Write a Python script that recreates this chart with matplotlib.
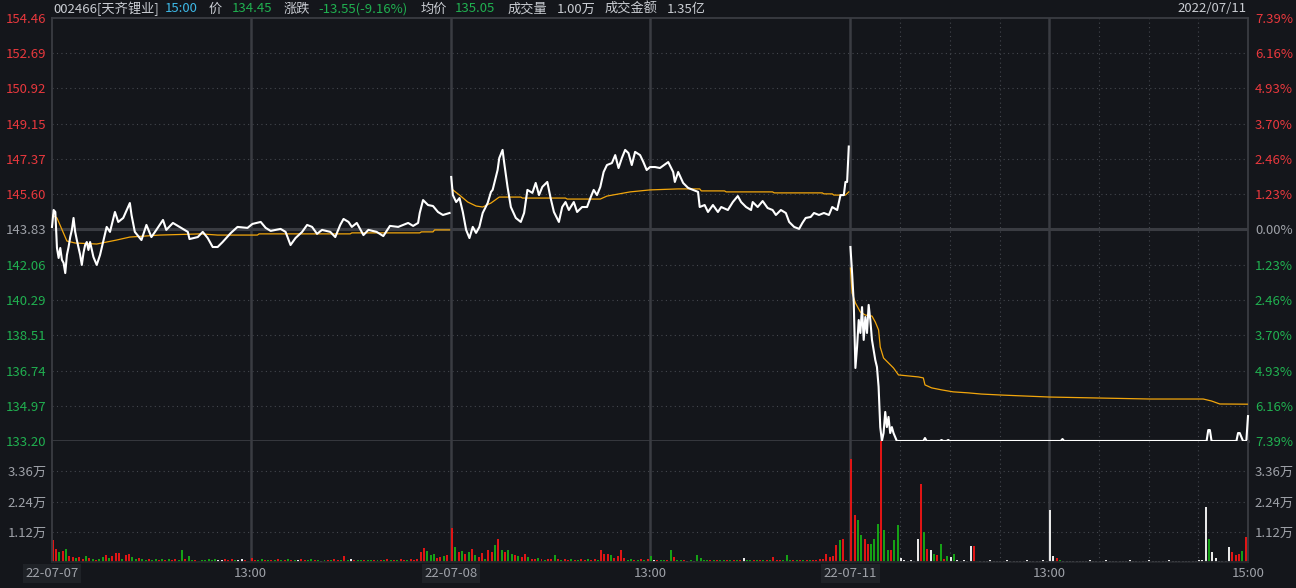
import matplotlib
matplotlib.use('Agg')
import matplotlib.pyplot as plt
import numpy as np

plt.rcParams['font.family'] = ['Noto Sans CJK SC', 'DejaVu Sans']

# ---- data ----
price_ticks = [133.20, 134.97, 136.74, 138.51, 140.29, 142.06, 143.83,
               145.60, 147.37, 149.15, 150.92, 152.69, 154.46]
pct_labels = ['7.39%', '6.16%', '4.93%', '3.70%', '2.46%', '1.23%', '0.00%',
              '1.23%', '2.46%', '3.70%', '4.93%', '6.16%', '7.39%']
prev_close = 143.83

vol_ticks = [1.12, 2.24, 3.36]
vol_labels = ['1.12万', '2.24万', '3.36万']

x_tick_pos = [0, 120, 241, 361, 482, 602, 722]
x_tick_labels = ['22-07-07', '13:00', '22-07-08', '13:00', '22-07-11', '13:00', '15:00']

# (minute of day, price)
day1_price = [(0, 143.96), (1, 144.81), (2, 144.71), (3, 142.90), (4, 142.40), (5, 142.90), (6, 142.30),
              (7, 142.15), (8, 141.64), (9, 142.55), (10, 142.95), (11, 143.45), (12, 143.81), (13, 144.41),
              (14, 143.71), (15, 143.30), (17, 142.55), (18, 142.05), (19, 142.65), (20, 143.05), (21, 143.20),
              (22, 142.80), (23, 143.20), (25, 142.45), (27, 142.05), (29, 142.55), (33, 143.96), (35, 143.71),
              (38, 144.71), (40, 144.21), (43, 144.41), (47, 145.16), (48, 144.56), (50, 143.71), (54, 143.30),
              (57, 144.06), (60, 143.45), (63, 143.81), (67, 144.31), (69, 143.81), (73, 144.16), (77, 143.96),
              (82, 143.71), (83, 143.35), (88, 143.45), (91, 143.71), (94, 143.40), (97, 142.95), (100, 142.95),
              (103, 143.20), (108, 143.66), (112, 143.96), (118, 143.91), (121, 144.11), (126, 144.21),
              (129, 143.91), (132, 143.76), (138, 143.86), (141, 143.71), (144, 143.05), (147, 143.40),
              (151, 143.71), (154, 144.06), (157, 143.96), (160, 143.61), (163, 143.81), (168, 143.71),
              (171, 143.45), (174, 144.06), (176, 144.36), (179, 144.21), (181, 143.96), (184, 144.16),
              (188, 143.55), (191, 143.81), (196, 143.71), (200, 143.50), (204, 144.01), (209, 143.96),
              (215, 144.16), (218, 144.01), (221, 144.16), (222, 144.66), (224, 145.31), (227, 145.06),
              (230, 145.01), (233, 144.71), (236, 144.56), (240, 144.66)]
day1_avg = [(0, 144.56), (3, 144.41), (9, 143.25), (14, 143.15), (27, 143.10), (39, 143.30), (47, 143.45),
            (65, 143.55), (90, 143.61), (100, 143.55), (124, 143.55), (125, 143.61), (180, 143.61),
            (181, 143.66), (222, 143.66), (223, 143.71), (230, 143.71), (231, 143.81), (240, 143.81)]

day2_price = [(0, 146.47), (1, 145.56), (3, 145.21), (5, 145.41), (7, 144.71), (9, 143.81), (11, 143.40),
              (13, 143.96), (15, 143.66), (17, 143.96), (19, 144.66), (22, 145.16), (24, 145.72), (25, 145.82),
              (28, 146.82), (29, 147.42), (31, 147.83), (32, 147.17), (34, 145.97), (36, 144.96), (39, 144.41),
              (42, 144.21), (44, 144.66), (46, 145.82), (49, 145.67), (51, 146.17), (53, 145.56), (55, 145.97),
              (58, 146.22), (60, 145.41), (62, 144.71), (65, 144.21), (67, 144.96), (69, 145.21), (71, 144.81),
              (74, 145.21), (76, 144.71), (79, 144.96), (82, 144.96), (84, 145.41), (86, 145.82), (88, 145.56),
              (90, 145.97), (92, 146.72), (94, 147.07), (97, 147.17), (99, 147.57), (101, 146.92), (103, 147.42),
              (105, 147.83), (107, 147.67), (109, 147.07), (111, 147.73), (114, 147.57), (116, 147.22),
              (118, 146.82), (120, 146.97), (123, 146.97), (126, 146.92), (131, 147.22), (134, 146.72),
              (135, 146.22), (137, 146.72), (140, 146.17), (143, 145.92), (146, 145.82), (149, 145.72),
              (150, 144.96), (153, 145.06), (155, 144.71), (158, 145.06), (161, 144.71), (163, 144.96),
              (167, 144.81), (170, 145.21), (173, 145.51), (175, 145.21), (178, 144.96), (181, 144.81),
              (182, 145.21), (185, 144.96), (188, 145.26), (191, 144.91), (194, 144.81), (196, 144.56),
              (199, 144.81), (202, 144.66), (204, 144.21), (207, 143.96), (210, 143.86), (212, 144.16),
              (214, 144.41), (217, 144.46), (219, 144.66), (222, 144.56), (225, 144.66), (228, 144.56),
              (230, 144.96), (233, 144.81), (235, 145.56), (237, 145.56), (238, 146.22), (239, 146.22),
              (240, 148.00)]
day2_avg = [(1, 145.82), (5, 145.56), (10, 145.21), (15, 145.01), (19, 144.96), (24, 145.16), (29, 145.46),
            (42, 145.46), (43, 145.41), (69, 145.41), (70, 145.36), (90, 145.36), (94, 145.51), (108, 145.72),
            (120, 145.82), (137, 145.87), (150, 145.87), (151, 145.77), (165, 145.77), (166, 145.72),
            (194, 145.72), (195, 145.67), (224, 145.67), (225, 145.62), (230, 145.62), (231, 145.56),
            (238, 145.56), (240, 145.72)]

day3_price = [(0, 142.95), (1, 141.64), (2, 140.14), (3, 136.87), (4, 137.92), (5, 139.28), (6, 138.63),
              (7, 139.93), (8, 138.28), (9, 139.43), (10, 138.63), (11, 140.04), (12, 139.28), (13, 138.28),
              (15, 137.27), (16, 136.92), (17, 135.92), (18, 133.90), (19, 133.20), (20, 133.60), (21, 134.66),
              (22, 133.90), (23, 134.41), (24, 133.60), (25, 133.90), (26, 133.60), (28, 133.20), (44, 133.20),
              (45, 133.35), (46, 133.20), (54, 133.20), (55, 133.25), (56, 133.20), (58, 133.20), (59, 133.25),
              (60, 133.20), (127, 133.20), (128, 133.30), (129, 133.20), (215, 133.20), (216, 133.75),
              (217, 133.75), (218, 133.20), (233, 133.20), (234, 133.60), (235, 133.60), (236, 133.40),
              (237, 133.20), (239, 133.20), (240, 134.45)]
day3_avg = [(0, 141.89), (1, 140.64), (3, 140.14), (6, 139.68), (9, 139.53), (13, 139.48), (15, 139.18),
            (17, 138.78), (18, 137.92), (20, 137.37), (23, 137.12), (26, 136.87), (29, 136.52), (35, 136.47),
            (41, 136.42), (44, 136.37), (45, 136.02), (49, 135.87), (55, 135.77), (62, 135.67), (71, 135.62),
            (79, 135.56), (91, 135.51), (120, 135.41), (150, 135.36), (181, 135.31), (213, 135.31),
            (218, 135.21), (223, 135.06), (240, 135.05)]

# volume per 2-minute bin, in 万
day1_vol = [0.82, 0.48, 0.37, 0.41, 0.48, 0.22, 0.19, 0.15, 0.19, 0.11,
            0.22, 0.15, 0.11, 0.07, 0.11, 0.19, 0.26, 0.15, 0.22, 0.34,
            0.34, 0.11, 0.26, 0.30, 0.19, 0.11, 0.15, 0.11, 0.07, 0.11,
            0.07, 0.11, 0.07, 0.11, 0.07, 0.11, 0.07, 0.11, 0.07, 0.45,
            0.11, 0.22, 0.07, 0.07, 0.04, 0.07, 0.07, 0.11, 0.07, 0.11,
            0.07, 0.07, 0.11, 0.07, 0.11, 0.07, 0.07, 0.11, 0.07, 0.04,
            0.15, 0.07, 0.07, 0.11, 0.07, 0.07, 0.07, 0.07, 0.11, 0.07,
            0.07, 0.11, 0.07, 0.07, 0.07, 0.11, 0.07, 0.07, 0.11, 0.07,
            0.07, 0.04, 0.07, 0.07, 0.07, 0.11, 0.07, 0.07, 0.22, 0.07,
            0.11, 0.07, 0.07, 0.07, 0.07, 0.07, 0.07, 0.07, 0.07, 0.07,
            0.07, 0.11, 0.07, 0.07, 0.07, 0.11, 0.07, 0.07, 0.11, 0.07,
            0.11, 0.37, 0.52, 0.41, 0.26, 0.30, 0.15, 0.19, 0.22, 0.26]
day1_dir = ('rrgrgrrgrr' 'grgrggrgrr' 'rgrrggrggr' 'ggrgrgrrgg' 'rggrgggggg' 'wwrrrgwwrg'
            'rrggrgrgrg' 'rgrgwrrggr' 'gwgrgrrgrg' 'wrggrggrgr' 'grgrgrrgrr' 'rrrgggrrgr')

day2_vol = [1.27, 0.56, 0.37, 0.41, 0.30, 0.37, 0.48, 0.26, 0.19, 0.34,
            0.11, 0.45, 0.37, 0.63, 0.86, 0.45, 0.37, 0.45, 0.30, 0.26,
            0.22, 0.19, 0.30, 0.19, 0.11, 0.11, 0.15, 0.11, 0.07, 0.11,
            0.11, 0.26, 0.11, 0.07, 0.11, 0.07, 0.11, 0.07, 0.07, 0.11,
            0.07, 0.11, 0.07, 0.11, 0.07, 0.45, 0.30, 0.30, 0.26, 0.15,
            0.22, 0.45, 0.15, 0.07, 0.11, 0.07, 0.07, 0.11, 0.07, 0.11,
            0.22, 0.07, 0.07, 0.07, 0.07, 0.07, 0.45, 0.19, 0.07, 0.07,
            0.07, 0.04, 0.07, 0.04, 0.26, 0.15, 0.07, 0.07, 0.07, 0.07,
            0.07, 0.07, 0.07, 0.07, 0.07, 0.07, 0.07, 0.07, 0.15, 0.07,
            0.07, 0.07, 0.07, 0.07, 0.07, 0.07, 0.07, 0.19, 0.07, 0.07,
            0.07, 0.26, 0.07, 0.07, 0.07, 0.07, 0.07, 0.07, 0.07, 0.07,
            0.07, 0.11, 0.11, 0.30, 0.19, 0.22, 0.63, 0.82, 0.86, 0.07]
day2_dir = ('rgrgrgrgrr' 'grrgrgrggr' 'grrgrrgrgr' 'rgrgrrgrgr' 'rgrrgrrrgr' 'rrrggrgrgr'
            'gwrggrgrgg' 'rwgwggggrg' 'rggrgrgrwg' 'grgrgrgrrr' 'gggrgrgrgr' 'rrrrrrrgrr')

day3_vol = [3.80, 1.75, 1.57, 1.01, 0.86, 0.67, 0.67, 0.86, 1.42, 4.66,
            1.19, 0.45, 0.45, 0.82, 1.38, 0.15, 0.07, 0.04, 0.07, 0.04,
            0.86, 2.87, 1.12, 0.48, 0.45, 0.30, 0.26, 0.67, 0.11, 0.22,
            0.19, 0.30, 0.07, 0.04, 0.07, 0.04, 0.60, 0.60, 0.04, 0.04,
            0.04, 0.04, 0.07, 0.04, 0.04, 0.04, 0.04, 0.07, 0.04, 0.04,
            0.04, 0.04, 0.04, 0.07, 0.04, 0.04, 0.04, 0.04, 0.07, 0.04,
            1.94, 0.22, 0.15, 0.07, 0.04, 0.04, 0.04, 0.04, 0.04, 0.04,
            0.04, 0.04, 0.07, 0.04, 0.04, 0.04, 0.04, 0.07, 0.04, 0.04,
            0.04, 0.04, 0.04, 0.04, 0.07, 0.04, 0.04, 0.04, 0.04, 0.04,
            0.07, 0.04, 0.04, 0.04, 0.04, 0.04, 0.07, 0.04, 0.04, 0.04,
            0.04, 0.04, 0.04, 0.04, 0.04, 0.07, 0.07, 2.05, 0.86, 0.37,
            0.15, 0.04, 0.04, 0.04, 0.56, 0.37, 0.26, 0.30, 0.41, 0.93]
day3_dir = ('rrggrrgggr' 'ggrggwwwww' 'wrgrwgrgrg' 'wgwwwwwrgw' 'wwwwwwwwww' 'wwwwwwwwww'
            'wwrgwwwwww' 'wwwwwwwwww' 'wwwwwwwwww' 'wwwwwwwwww' 'wwwwwwwwgw' 'wwwwwrrrgr')

# ---- style ----
BG = '#14161b'
GRID = '#3a3c42'
RED = '#e8383d'
GREEN = '#20b050'
GREY = '#9ea1a8'
TXT = '#c9ccd2'
bar_colors = {'r': '#e01515', 'g': '#16a016', 'w': '#e8e8e8'}

fig = plt.figure(figsize=(12.96, 5.88), dpi=100)
fig.patch.set_facecolor(BG)
ax = fig.add_axes([52 / 1296, 147 / 588, 1196 / 1296, 423 / 588])
axv = fig.add_axes([52 / 1296, 26 / 588, 1196 / 1296, 121 / 588], sharex=ax)

for a in (ax, axv):
    a.set_facecolor(BG)
    for s in a.spines.values():
        s.set_color(GRID)
        s.set_linewidth(1.3)
ax.spines['bottom'].set_linewidth(2)
axv.spines['top'].set_visible(False)
axv.spines['bottom'].set_color('#26282d')

ax.set_xlim(0, 722)
ax.set_ylim(price_ticks[0], price_ticks[-1])
axv.set_ylim(0, 4.48)

# grid
dot = (0, (1, 3))
for p in price_ticks[1:-1]:
    if p == prev_close:
        ax.axhline(p, color=GRID, lw=2.2, zorder=1)
    else:
        ax.axhline(p, color='#44474e', lw=0.8, ls=dot, zorder=1)
for v in vol_ticks:
    axv.axhline(v, color='#44474e', lw=0.8, ls=dot, zorder=1)
for xs in x_tick_pos[1:-1]:
    ax.axvline(xs, color=GRID, lw=1.8, zorder=1)
    axv.axvline(xs, color=GRID, lw=1.8, zorder=1)
for mm in [30, 60, 90, 150, 180, 210]:
    ax.axvline(482 + mm, color='#44474e', lw=0.8, ls=dot, zorder=1)
    axv.axvline(482 + mm, color='#44474e', lw=0.8, ls=dot, zorder=1)

# price and average lines
for d, (pr, av) in enumerate([(day1_price, day1_avg), (day2_price, day2_avg), (day3_price, day3_avg)]):
    m, p = zip(*pr)
    ax.plot(np.array(m) + d * 241, p, color='white', lw=1.5, zorder=4, clip_on=False)
    m, p = zip(*av)
    ax.plot(np.array(m) + d * 241, p, color='#f2a60c', lw=0.9, zorder=3)

# volume bars
for d, (vol, dirs) in enumerate([(day1_vol, day1_dir), (day2_vol, day2_dir), (day3_vol, day3_dir)]):
    xs = d * 241 + np.arange(len(vol)) * 2 + 0.5
    axv.bar(xs, vol, width=1.2, color=[bar_colors[c] for c in dirs], zorder=2)

# y tick labels
def label_color(p):
    if p > prev_close:
        return RED
    if p < prev_close:
        return GREEN
    return GREY

ax.set_yticks(price_ticks)
ax.set_yticklabels([f'{p:.2f}' for p in price_ticks])
ax.tick_params(axis='y', length=0, pad=4, labelsize=9.5)
ax.tick_params(axis='x', length=0, labelbottom=False)
for lbl, p in zip(ax.get_yticklabels(), price_ticks):
    lbl.set_color(label_color(p))

axr = ax.twinx()
axr.set_ylim(ax.get_ylim())
axr.set_yticks(price_ticks)
axr.set_yticklabels(pct_labels)
axr.tick_params(axis='y', length=0, pad=5, labelsize=9.5)
for s in axr.spines.values():
    s.set_visible(False)
for lbl, p in zip(axr.get_yticklabels(), price_ticks):
    lbl.set_color(label_color(p))

axv.set_yticks(vol_ticks)
axv.set_yticklabels(vol_labels)
axv.tick_params(axis='y', length=0, pad=4, labelsize=9.5, colors=GREY)
axv.tick_params(axis='x', length=0, labelbottom=False)
axvr = axv.twinx()
axvr.set_ylim(axv.get_ylim())
axvr.set_yticks(vol_ticks)
axvr.set_yticklabels(vol_labels)
axvr.tick_params(axis='y', length=0, pad=5, labelsize=9.5, colors=GREY)
for s in axvr.spines.values():
    s.set_visible(False)

# x labels under the volume panel
for xp, t in zip(x_tick_pos, x_tick_labels):
    box = None
    if '-' in t:
        box = dict(boxstyle='square,pad=0.2', fc='#1f2227', ec='none')
    axv.text(xp, -0.095, t, transform=axv.get_xaxis_transform(), ha='center', va='center',
             fontsize=9.5, color=GREY, bbox=box, clip_on=False)

# header
y_head = 1 - 9 / 588
header = [(53, '002466[天齐锂业]', TXT), (165, '15:00', '#3db8e6'), (209, '价', TXT),
          (232, '134.45', GREEN), (284, '涨跌', TXT), (318, '-13.55(-9.16%)', GREEN),
          (421, '均价', TXT), (455, '135.05', GREEN), (508, '成交量', TXT), (557, '1.00万', TXT),
          (605, '成交金额', TXT), (667, '1.35亿', TXT)]
for xp, t, c in header:
    fig.text(xp / 1296, y_head, t, color=c, fontsize=9.5, ha='left', va='center')
fig.text(1246 / 1296, y_head, '2022/07/11', color=TXT, fontsize=9.5, ha='right', va='center')

fig.savefig('out.png', dpi=100, facecolor=BG)
